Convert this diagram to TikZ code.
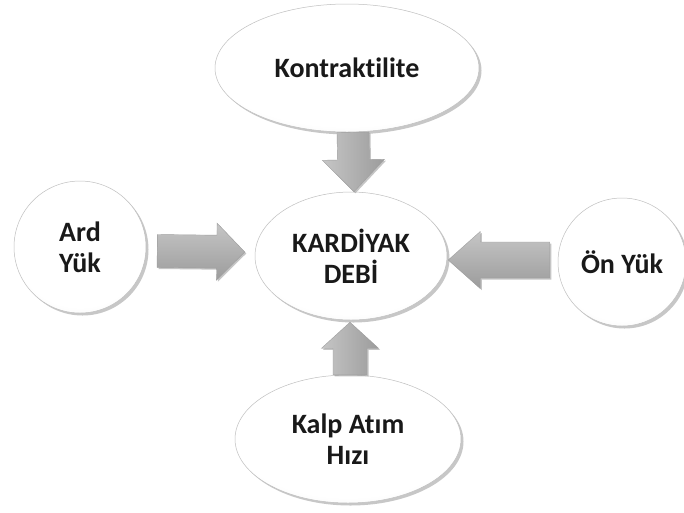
\documentclass[tikz,border=0pt]{standalone}
\usepackage{fontspec}
\setmainfont{Carlito}[Ligatures=NoCommon]
\usetikzlibrary{shapes.geometric,shadows,calc}
\pgfdeclareradialshading{ball}{\pgfpoint{0bp}{6bp}}{color(0bp)=(white); color(26bp)=(white); color(38bp)=(gray!15); color(46bp)=(gray!40); color(52bp)=(gray!65); color(56bp)=(gray!75)}
\tikzset{
  bubble/.style={shading=ball, draw=gray!50, line width=0.5pt, inner sep=0pt, align=center,
     font=\fontsize{28}{31}\selectfont\bfseries, text=black!90,
     drop shadow={shadow xshift=2.5pt, shadow yshift=-2.5pt, opacity=0.55, fill=gray!80}},
  ell/.style={bubble, ellipse},
  ball/.style={bubble, circle},
  fatarrow/.style={draw=gray!75, line width=0.4pt, shading=axis, top color=gray!45, bottom color=gray!78, drop shadow={shadow xshift=1.5pt, shadow yshift=-1.5pt, opacity=0.45, fill=gray}}
}
% #1 start, #2 tip, #3 half shaft, #4 half head, #5 head length, #6 shading angle
\newcommand\fatarr[6]{%
  \coordinate (fh) at ($(#2)!#5!(#1)$);
  \path[fatarrow, shading angle=#6]
    ($(#1)!#3!90:(#2)$) -- ($(fh)!#3!90:(#2)$) -- ($(fh)!#4!90:(#2)$) -- (#2)
    -- ($(fh)!#4!-90:(#2)$) -- ($(fh)!#3!-90:(#2)$) -- ($(#1)!#3!-90:(#2)$) -- cycle;
}
\begin{document}
\begin{tikzpicture}[x=1pt,y=-1pt]
\useasboundingbox[fill=white] (0,0) rectangle (684,512);
\node[ell, minimum width=264pt, minimum height=128pt] (kon) at (347,68) {Kontraktilite};
\node[ell, minimum width=192pt, minimum height=128pt] (kd) at (351,256) {KARDİYAK\\DEBİ};
\node[ball, minimum size=132pt] (ard) at (80,247) {Ard\\Yük};
\node[ball, minimum size=128pt] (on) at (622,262) {Ön Yük};
\node[ell, minimum width=226pt, minimum height=128pt] (kalp) at (348,439) {Kalp Atım\\Hızı};
% arrows
\coordinate (a1s) at ($(kon.south)+(6,0)$);
\coordinate (a1t) at ($(kd.north)+(3,0)$);
\fatarr{a1s}{a1t}{16pt}{31pt}{32pt}{90}
\coordinate (a2s) at ($(ard.east)+(11,4)$);
\coordinate (a2t) at ($(kd.west)+(-10,-4)$);
\fatarr{a2s}{a2t}{16.5pt}{28.5pt}{28pt}{0}
\coordinate (a3s) at ($(on.west)+(-8,-2)$);
\coordinate (a3t) at ($(kd.east)+(1,4)$);
\fatarr{a3s}{a3t}{18pt}{28.5pt}{32pt}{0}
\coordinate (a4s) at ($(kalp.north)+(2,0)$);
\coordinate (a4t) at ($(kd.south)+(-1,2)$);
\fatarr{a4s}{a4t}{17pt}{28.5pt}{26pt}{90}
\end{tikzpicture}
\end{document}
